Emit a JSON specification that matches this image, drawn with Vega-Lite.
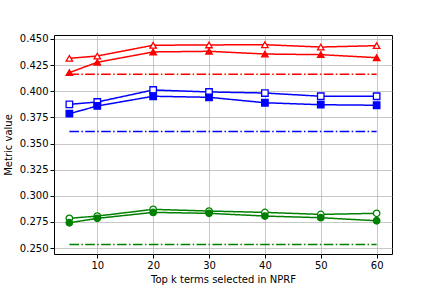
{
  "$schema": "https://vega.github.io/schema/vega-lite/v6.json",
  "width": 338,
  "height": 219,
  "autosize": {"type": "none"},
  "padding": {"left": 54, "top": 35, "right": 44, "bottom": 37},
  "background": "white",
  "config": {
    "font": "DejaVu Sans",
    "view": {"stroke": "black", "strokeWidth": 1},
    "axis": {
      "labelFont": "DejaVu Sans", "titleFont": "DejaVu Sans",
      "labelFontSize": 10, "titleFontSize": 10, "titleFontWeight": "normal",
      "labelColor": "black", "titleColor": "black",
      "tickColor": "black", "tickSize": 4, "domain": false,
      "gridColor": "#b0b0b0", "gridWidth": 1, "gridOpacity": 0.7
    }
  },
  "data": {"values": [
    {"k": 5, "v": 0.4315, "s": "r_open", "c": "r", "d": "solid", "filled": false},
    {"k": 10, "v": 0.4337, "s": "r_open", "c": "r", "d": "solid", "filled": false},
    {"k": 20, "v": 0.4440, "s": "r_open", "c": "r", "d": "solid", "filled": false},
    {"k": 30, "v": 0.4443, "s": "r_open", "c": "r", "d": "solid", "filled": false},
    {"k": 40, "v": 0.4445, "s": "r_open", "c": "r", "d": "solid", "filled": false},
    {"k": 50, "v": 0.4423, "s": "r_open", "c": "r", "d": "solid", "filled": false},
    {"k": 60, "v": 0.4436, "s": "r_open", "c": "r", "d": "solid", "filled": false},
    {"k": 5, "v": 0.4178, "s": "r_fill", "c": "r", "d": "solid", "filled": true},
    {"k": 10, "v": 0.4277, "s": "r_fill", "c": "r", "d": "solid", "filled": true},
    {"k": 20, "v": 0.4376, "s": "r_fill", "c": "r", "d": "solid", "filled": true},
    {"k": 30, "v": 0.4382, "s": "r_fill", "c": "r", "d": "solid", "filled": true},
    {"k": 40, "v": 0.4356, "s": "r_fill", "c": "r", "d": "solid", "filled": true},
    {"k": 50, "v": 0.4350, "s": "r_fill", "c": "r", "d": "solid", "filled": true},
    {"k": 60, "v": 0.4321, "s": "r_fill", "c": "r", "d": "solid", "filled": true},
    {"k": 5, "v": 0.4162, "s": "r_base", "c": "r", "d": "dashdot", "filled": false},
    {"k": 60, "v": 0.4162, "s": "r_base", "c": "r", "d": "dashdot", "filled": false},
    {"k": 5, "v": 0.3875, "s": "b_open", "c": "b", "d": "solid", "filled": false},
    {"k": 10, "v": 0.3897, "s": "b_open", "c": "b", "d": "solid", "filled": false},
    {"k": 20, "v": 0.4012, "s": "b_open", "c": "b", "d": "solid", "filled": false},
    {"k": 30, "v": 0.3993, "s": "b_open", "c": "b", "d": "solid", "filled": false},
    {"k": 40, "v": 0.3983, "s": "b_open", "c": "b", "d": "solid", "filled": false},
    {"k": 50, "v": 0.3952, "s": "b_open", "c": "b", "d": "solid", "filled": false},
    {"k": 60, "v": 0.3952, "s": "b_open", "c": "b", "d": "solid", "filled": false},
    {"k": 5, "v": 0.3785, "s": "b_fill", "c": "b", "d": "solid", "filled": true},
    {"k": 10, "v": 0.3859, "s": "b_fill", "c": "b", "d": "solid", "filled": true},
    {"k": 20, "v": 0.3952, "s": "b_fill", "c": "b", "d": "solid", "filled": true},
    {"k": 30, "v": 0.3942, "s": "b_fill", "c": "b", "d": "solid", "filled": true},
    {"k": 40, "v": 0.3890, "s": "b_fill", "c": "b", "d": "solid", "filled": true},
    {"k": 50, "v": 0.3871, "s": "b_fill", "c": "b", "d": "solid", "filled": true},
    {"k": 60, "v": 0.3866, "s": "b_fill", "c": "b", "d": "solid", "filled": true},
    {"k": 5, "v": 0.3615, "s": "b_base", "c": "b", "d": "dashdot", "filled": false},
    {"k": 60, "v": 0.3615, "s": "b_base", "c": "b", "d": "dashdot", "filled": false},
    {"k": 5, "v": 0.2784, "s": "g_open", "c": "g", "d": "solid", "filled": false},
    {"k": 10, "v": 0.2806, "s": "g_open", "c": "g", "d": "solid", "filled": false},
    {"k": 20, "v": 0.2870, "s": "g_open", "c": "g", "d": "solid", "filled": false},
    {"k": 30, "v": 0.2854, "s": "g_open", "c": "g", "d": "solid", "filled": false},
    {"k": 40, "v": 0.2841, "s": "g_open", "c": "g", "d": "solid", "filled": false},
    {"k": 50, "v": 0.2822, "s": "g_open", "c": "g", "d": "solid", "filled": false},
    {"k": 60, "v": 0.2832, "s": "g_open", "c": "g", "d": "solid", "filled": false},
    {"k": 5, "v": 0.2742, "s": "g_fill", "c": "g", "d": "solid", "filled": true},
    {"k": 10, "v": 0.2784, "s": "g_fill", "c": "g", "d": "solid", "filled": true},
    {"k": 20, "v": 0.2841, "s": "g_fill", "c": "g", "d": "solid", "filled": true},
    {"k": 30, "v": 0.2832, "s": "g_fill", "c": "g", "d": "solid", "filled": true},
    {"k": 40, "v": 0.2806, "s": "g_fill", "c": "g", "d": "solid", "filled": true},
    {"k": 50, "v": 0.2790, "s": "g_fill", "c": "g", "d": "solid", "filled": true},
    {"k": 60, "v": 0.2761, "s": "g_fill", "c": "g", "d": "solid", "filled": true},
    {"k": 5, "v": 0.2535, "s": "g_base", "c": "g", "d": "dashdot", "filled": false},
    {"k": 60, "v": 0.2535, "s": "g_base", "c": "g", "d": "dashdot", "filled": false}
  ]},
  "encoding": {
    "x": {"field": "k", "type": "quantitative",
      "scale": {"domain": [2.25, 62.75], "nice": false, "zero": false},
      "axis": {"values": [10, 20, 30, 40, 50, 60], "title": "Top k terms selected in NPRF", "titlePadding": 4}},
    "y": {"field": "v", "type": "quantitative",
      "scale": {"domain": [0.2443, 0.4538], "nice": false, "zero": false},
      "axis": {"values": [0.25, 0.275, 0.3, 0.325, 0.35, 0.375, 0.4, 0.425, 0.45], "format": ".3f", "title": "Metric value", "titlePadding": 6}}
  },
  "layer": [
    {
      "mark": {"type": "line", "strokeWidth": 1.5, "clip": true},
      "encoding": {
        "detail": {"field": "s"},
        "color": {"field": "c", "type": "nominal", "scale": {"domain": ["r", "b", "g"], "range": ["#ff0000", "#0000ff", "#008000"]}, "legend": null},
        "strokeDash": {"field": "d", "type": "nominal", "scale": {"domain": ["solid", "dashdot"], "range": [[1, 0], [9.6, 2.4, 1.5, 2.4]]}, "legend": null}
      }
    },
    {
      "transform": [{"filter": "datum.d == 'solid'"}],
      "mark": {"type": "point", "strokeWidth": 1.3, "opacity": 1, "size": 42},
      "encoding": {
        "shape": {"field": "c", "type": "nominal", "scale": {"domain": ["r", "b", "g"], "range": ["triangle-up", "square", "circle"]}, "legend": null},
        "stroke": {"field": "c", "type": "nominal", "scale": {"domain": ["r", "b", "g"], "range": ["#ff0000", "#0000ff", "#008000"]}, "legend": null},
        "fill": {"condition": {"test": "datum.filled", "field": "c", "type": "nominal", "scale": {"domain": ["r", "b", "g"], "range": ["#ff0000", "#0000ff", "#008000"]}, "legend": null}, "value": "white"}
      }
    }
  ]
}
